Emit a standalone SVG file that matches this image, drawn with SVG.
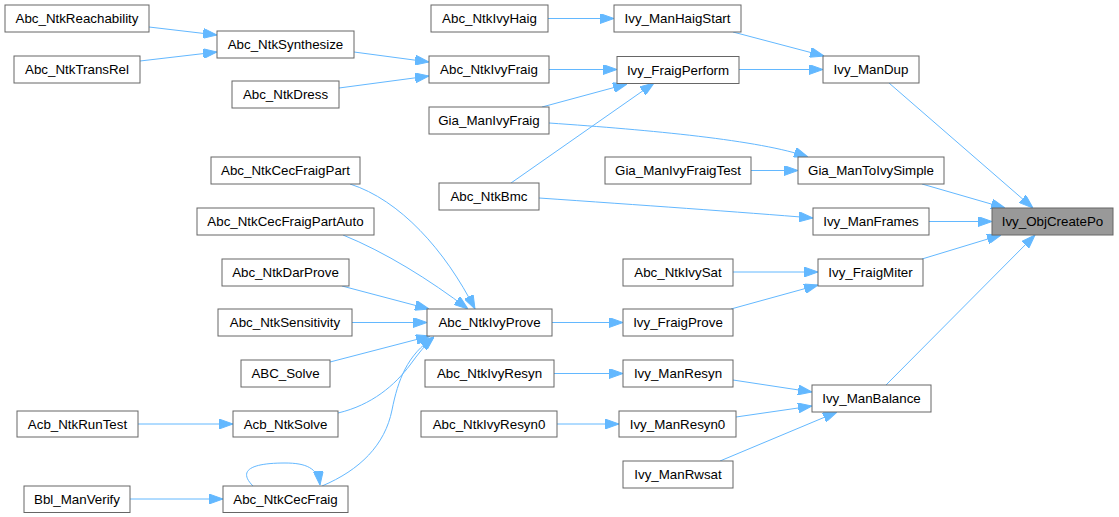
<svg xmlns="http://www.w3.org/2000/svg" width="1119" height="517" viewBox="0 0 1119 517">
<style>
.n rect{fill:#ffffff;stroke:#666666;stroke-width:1}
.n.hl rect{fill:#999999}
.n text{font-family:"Liberation Sans",Arial,sans-serif;font-size:13.33px;fill:#000000;text-anchor:middle}
.e path{fill:none;stroke:#63b8ff;stroke-width:1;marker-end:url(#ah)}
</style>
<defs>
<marker id="ah" markerUnits="userSpaceOnUse" viewBox="0 0 14 10" refX="14" refY="5" markerWidth="14" markerHeight="10" orient="auto">
<path d="M0,0 L14,5 L0,10 z" fill="#63b8ff" stroke="#63b8ff" stroke-width="1"/>
</marker>
</defs>
<rect width="1119" height="517" fill="#ffffff"/>
<g id="edges" class="e">
<path d="M149,27 L217,35"/>
<path d="M140,61 L217,52"/>
<path d="M354,52 L429,62"/>
<path d="M339,88 L429,76"/>
<path d="M548,18.5 L614,18.5"/>
<path d="M733,32 L824,56"/>
<path d="M549,69.5 L617,69.5"/>
<path d="M542,107 L627,84"/>
<path d="M511,183 L654,83"/>
<path d="M739,69.5 L823,69.5"/>
<path d="M889,83 L1033,208"/>
<path d="M549,123 C650,130 760,140 808,157"/>
<path d="M751,170.5 L798,170.5"/>
<path d="M922,184 L1005,208"/>
<path d="M539,198 C640,205 740,212 813,218"/>
<path d="M929,221.5 L992,221.5"/>
<path d="M733,272 L818,272"/>
<path d="M731,309 L818,285"/>
<path d="M922,259 L1001,235"/>
<path d="M886,385 L1035,235"/>
<path d="M733,380 L812,392"/>
<path d="M736,417 L812,406"/>
<path d="M720,461 L837,412"/>
<path d="M552,322.5 L623,322.5"/>
<path d="M554,373.5 L623,373.5"/>
<path d="M557,424 L619,424"/>
<path d="M138,424 L233,424"/>
<path d="M130,499 L223,499"/>
<path d="M253,486 C237,470 252,463 285,463 C306,463 318,468 320,485"/>
<path d="M350,184 C400,200 445,250 475,309"/>
<path d="M343,235 C385,252 430,280 468,309"/>
<path d="M342,286 L429,309"/>
<path d="M352,322.5 L427,322.5"/>
<path d="M330,362 L430,336"/>
<path d="M338,413 C372,405 395,385 410,365 C418,354 425,345 434,337"/>
<path d="M322,486 C360,470 385,445 392,410 C398,380 407,355 434,337"/>
</g>
<g id="n1" class="n"><rect x="5" y="5" width="144" height="27"/><text x="77" y="23">Abc_NtkReachability</text></g>
<g id="n2" class="n"><rect x="14" y="56" width="126" height="27"/><text x="77" y="74">Abc_NtkTransRel</text></g>
<g id="n3" class="n"><rect x="217" y="31" width="137" height="27"/><text x="285.5" y="49">Abc_NtkSynthesize</text></g>
<g id="n4" class="n"><rect x="232" y="81" width="107" height="27"/><text x="285.5" y="99">Abc_NtkDress</text></g>
<g id="n5" class="n"><rect x="431" y="5" width="117" height="27"/><text x="489.5" y="23">Abc_NtkIvyHaig</text></g>
<g id="n6" class="n"><rect x="429" y="56" width="120" height="27"/><text x="489" y="74">Abc_NtkIvyFraig</text></g>
<g id="n7" class="n"><rect x="429" y="107" width="120" height="27"/><text x="489" y="125">Gia_ManIvyFraig</text></g>
<g id="n8" class="n"><rect x="614" y="5" width="127" height="27"/><text x="677.5" y="23">Ivy_ManHaigStart</text></g>
<g id="n9" class="n"><rect x="617" y="56.5" width="122" height="27"/><text x="678" y="74.5">Ivy_FraigPerform</text></g>
<g id="n10" class="n"><rect x="823" y="56" width="96" height="27"/><text x="871" y="74">Ivy_ManDup</text></g>
<g id="n11" class="n"><rect x="211" y="157" width="149" height="27"/><text x="285.5" y="175">Abc_NtkCecFraigPart</text></g>
<g id="n12" class="n"><rect x="439" y="183" width="100" height="27"/><text x="489" y="201">Abc_NtkBmc</text></g>
<g id="n13" class="n"><rect x="605" y="157" width="146" height="27"/><text x="678" y="175">Gia_ManIvyFraigTest</text></g>
<g id="n14" class="n"><rect x="798" y="157" width="146" height="27"/><text x="871" y="175">Gia_ManToIvySimple</text></g>
<g id="n15" class="n"><rect x="197" y="208" width="177" height="27"/><text x="285.5" y="226">Abc_NtkCecFraigPartAuto</text></g>
<g id="n16" class="n"><rect x="813" y="208" width="116" height="27"/><text x="871" y="226">Ivy_ManFrames</text></g>
<g id="n17" class="n hl"><rect x="992" y="208" width="121" height="27"/><text x="1052.5" y="226">Ivy_ObjCreatePo</text></g>
<g id="n18" class="n"><rect x="222" y="259" width="127" height="27"/><text x="285.5" y="277">Abc_NtkDarProve</text></g>
<g id="n19" class="n"><rect x="623" y="259" width="110" height="27"/><text x="678" y="277">Abc_NtkIvySat</text></g>
<g id="n20" class="n"><rect x="818" y="259" width="105" height="27"/><text x="870.5" y="277">Ivy_FraigMiter</text></g>
<g id="n21" class="n"><rect x="218" y="309" width="134" height="27"/><text x="285" y="327">Abc_NtkSensitivity</text></g>
<g id="n22" class="n"><rect x="427" y="309" width="125" height="27"/><text x="489.5" y="327">Abc_NtkIvyProve</text></g>
<g id="n23" class="n"><rect x="623" y="309" width="110" height="27"/><text x="678" y="327">Ivy_FraigProve</text></g>
<g id="n24" class="n"><rect x="241" y="360" width="89" height="27"/><text x="285.5" y="378">ABC_Solve</text></g>
<g id="n25" class="n"><rect x="425" y="360" width="129" height="27"/><text x="489.5" y="378">Abc_NtkIvyResyn</text></g>
<g id="n26" class="n"><rect x="623" y="360" width="110" height="27"/><text x="678" y="378">Ivy_ManResyn</text></g>
<g id="n27" class="n"><rect x="812" y="385" width="119" height="27"/><text x="871.5" y="403">Ivy_ManBalance</text></g>
<g id="n28" class="n"><rect x="17" y="411" width="121" height="26"/><text x="77.5" y="428.5">Acb_NtkRunTest</text></g>
<g id="n29" class="n"><rect x="233" y="411" width="105" height="26"/><text x="285.5" y="428.5">Acb_NtkSolve</text></g>
<g id="n30" class="n"><rect x="421" y="411" width="136" height="26"/><text x="489" y="428.5">Abc_NtkIvyResyn0</text></g>
<g id="n31" class="n"><rect x="619" y="411" width="117" height="26"/><text x="677.5" y="428.5">Ivy_ManResyn0</text></g>
<g id="n32" class="n"><rect x="623" y="461" width="110" height="27"/><text x="678" y="479">Ivy_ManRwsat</text></g>
<g id="n33" class="n"><rect x="24" y="486" width="106" height="26.5"/><text x="77" y="503.5">Bbl_ManVerify</text></g>
<g id="n34" class="n"><rect x="223" y="486" width="125" height="26.5"/><text x="285.5" y="503.5">Abc_NtkCecFraig</text></g>
</svg>
